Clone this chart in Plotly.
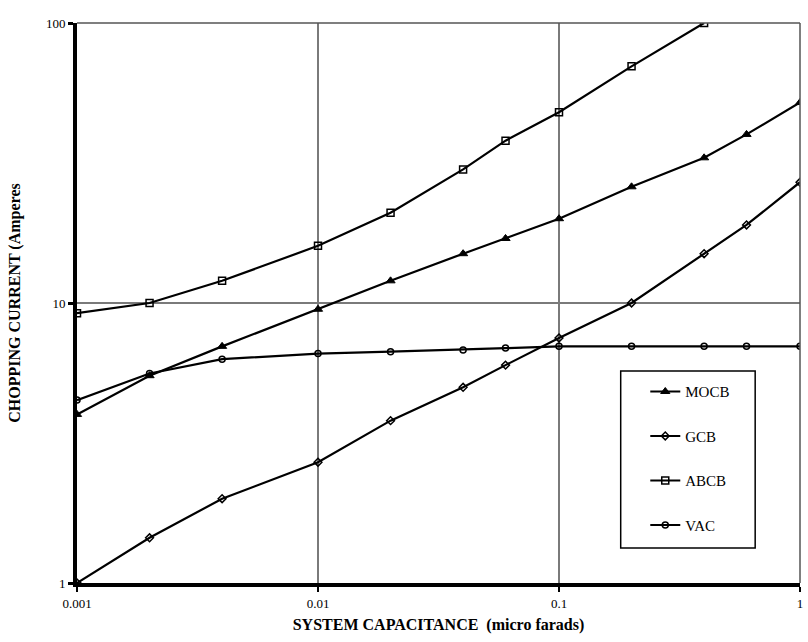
import plotly.graph_objects as go

# System capacitance (micro farads) at which chopping current was evaluated
cap_full = [0.001, 0.002, 0.004, 0.01, 0.02, 0.04, 0.06, 0.1, 0.2, 0.4, 0.6, 1.0]
cap_abcb = [0.001, 0.002, 0.004, 0.01, 0.02, 0.04, 0.06, 0.1, 0.2, 0.4]

# Chopping current (Amperes) per breaker type
mocb = [4.0, 5.5, 7.0, 9.5, 12.0, 15.0, 17.0, 20.0, 26.0, 33.0, 40.0, 52.0]
gcb = [1.0, 1.45, 2.0, 2.7, 3.8, 5.0, 6.0, 7.5, 10.0, 15.0, 19.0, 27.0]
abcb = [9.2, 10.0, 12.0, 16.0, 21.0, 30.0, 38.0, 48.0, 70.0, 100.0]
vac = [4.5, 5.6, 6.3, 6.6, 6.7, 6.8, 6.9, 7.0, 7.0, 7.0, 7.0, 7.0]

x_ticks = [0.001, 0.01, 0.1, 1]
x_tick_text = ["0.001", "0.01", "0.1", "1"]
y_ticks = [1, 10, 100]
y_tick_text = ["1", "10", "100"]

FONT = "Liberation Serif, Times New Roman, serif"

series = [
    ("MOCB", cap_full, mocb, dict(symbol="triangle-up", size=8, color="black",
                                   line=dict(color="black", width=1))),
    ("GCB", cap_full, gcb, dict(symbol="diamond-open", size=6, color="black",
                                 line=dict(color="black", width=1.5))),
    ("ABCB", cap_abcb, abcb, dict(symbol="square-open", size=7, color="black",
                                   line=dict(color="black", width=1.5))),
    ("VAC", cap_full, vac, dict(symbol="circle-open", size=6, color="black",
                                 line=dict(color="black", width=1.5))),
]

fig = go.Figure()
for name, xs, ys, marker in series:
    fig.add_trace(go.Scatter(
        x=xs, y=ys, name=name, mode="lines+markers",
        line=dict(color="black", width=2.2),
        marker=marker, legendgroup=name,
    ))

fig.update_layout(
    width=808, height=642,
    margin=dict(l=77, r=5, t=23, b=59),
    paper_bgcolor="white", plot_bgcolor="white",
    font=dict(family=FONT, color="black", size=13),
    showlegend=True,
    legend=dict(
        x=0.786, y=0.371, xanchor="left", yanchor="top",
        borderwidth=0, bgcolor="rgba(0,0,0,0)",
        font=dict(family=FONT, size=15),
        tracegroupgap=22, traceorder="grouped", itemwidth=30,
    ),
    xaxis=dict(
        type="log", range=[-3, 0],
        tickvals=x_ticks, ticktext=x_tick_text,
        showgrid=True, gridcolor="#7a7a7a", gridwidth=1.5,
        showline=True, linecolor="black", linewidth=4,
        ticks="outside", ticklen=5, tickwidth=2, tickcolor="black",
        zeroline=False,
        tickfont=dict(family=FONT, size=13),
        title=dict(text="<b>SYSTEM CAPACITANCE  (micro farads)</b>",
                   font=dict(family=FONT, size=16), standoff=10),
    ),
    yaxis=dict(
        type="log", range=[0, 2],
        tickvals=y_ticks, ticktext=y_tick_text,
        showgrid=True, gridcolor="#7a7a7a", gridwidth=1.5,
        showline=True, linecolor="black", linewidth=4,
        ticks="outside", ticklen=5, tickwidth=3, tickcolor="black",
        zeroline=False,
        tickfont=dict(family=FONT, size=13),
        title=dict(text="<b>CHOPPING CURRENT (Amperes</b>",
                   font=dict(family=FONT, size=16), standoff=22),
    ),
)

# thin frame along the top and right edges of the plotting area
fig.add_shape(type="line", xref="paper", yref="paper", x0=0, x1=1, y0=1, y1=1,
              line=dict(color="#555555", width=1.5))
fig.add_shape(type="line", xref="paper", yref="paper", x0=1, x1=1, y0=0, y1=1,
              line=dict(color="#555555", width=1.5))

# legend frame
fig.add_shape(type="rect", xref="paper", yref="paper",
              x0=0.752, x1=0.938, y0=0.0625, y1=0.3786,
              line=dict(color="black", width=1.5), fillcolor="white", layer="below")

fig.write_html("out.html")
